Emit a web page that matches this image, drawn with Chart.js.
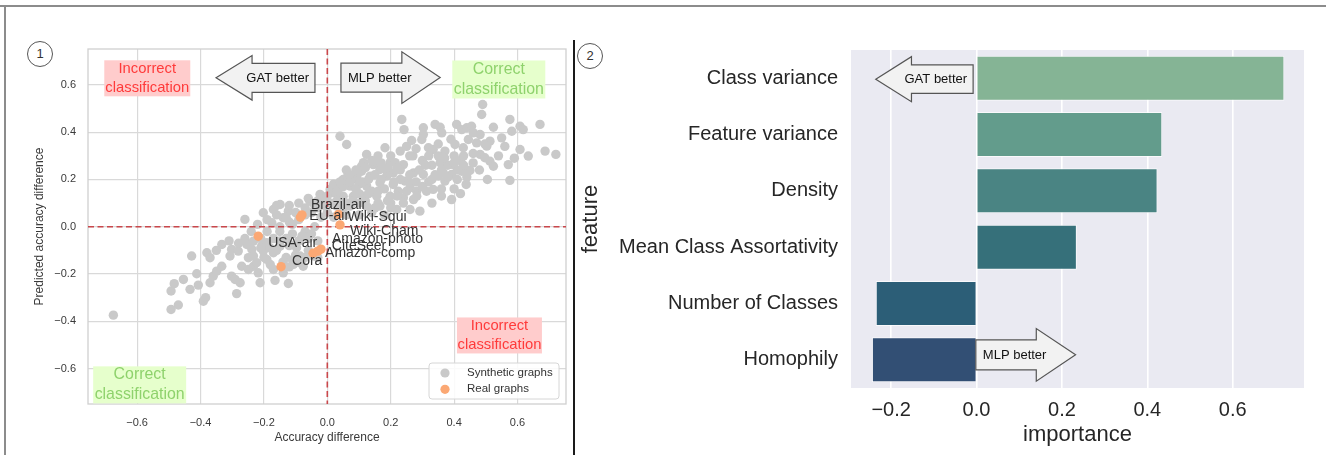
<!DOCTYPE html>
<html>
<head>
<meta charset="utf-8">
<script src="https://cdn.jsdelivr.net/npm/chart.js@4.4.1/dist/chart.umd.min.js"></script>
<style>
  html, body { margin: 0; padding: 0; background: #fff; width: 1326px; height: 455px; overflow: hidden;
    font-family: "Liberation Sans", Arial, sans-serif; }
  .abs { position: absolute; }
  #topline { left: 0; top: 5px; width: 1326px; height: 2px; background: #8c8c8c; }
  #leftline { left: 4px; top: 5px; width: 2px; height: 450px; background: #8c8c8c; }
  #divider { left: 573px; top: 40px; width: 1.5px; height: 415px; background: #1a1a1a; }
  .num { width: 24px; height: 24px; border: 1px solid #555; border-radius: 50%; text-align: center;
    line-height: 24px; font-size: 13px; color: #333; background: #fff; }
  #c1 { left: 0; top: 0; }
  #c2 { left: 574px; top: 0; }
</style>
</head>
<body>
<div id="topline" class="abs"></div>
<div id="leftline" class="abs"></div>
<div id="divider" class="abs"></div>
<canvas id="c1" class="abs" width="573" height="455"></canvas>
<canvas id="c2" class="abs" width="752" height="455"></canvas>
<div class="abs num" style="left:27px;top:41px;">1</div>
<div class="abs num" style="left:577px;top:43px;">2</div>
<script>
// ---------- Panel 1: predicted vs. actual accuracy difference ----------
const x1Ticks = [-0.6, -0.4, -0.2, 0.0, 0.2, 0.4, 0.6];
const x1TickLabels = ['\u22120.6', '\u22120.4', '\u22120.2', '0.0', '0.2', '0.4', '0.6'];
const y1Ticks = [-0.6, -0.4, -0.2, 0.0, 0.2, 0.4, 0.6];
const y1TickLabels = ['\u22120.6', '\u22120.4', '\u22120.2', '0.0', '0.2', '0.4', '0.6'];

// synthetic graphs: [accuracy difference, predicted accuracy difference]
const syntheticPoints = [
  [-0.675,-0.374],[-0.493,-0.350],[-0.470,-0.331],[-0.493,-0.272],[-0.483,-0.241],[-0.454,-0.223],
  [-0.428,-0.124],[-0.433,-0.265],[-0.412,-0.199],[-0.407,-0.247],[-0.391,-0.315],[-0.384,-0.300],
  [-0.380,-0.110],[-0.370,-0.131],[-0.370,-0.237],[-0.360,-0.209],[-0.349,-0.188],[-0.333,-0.167],
  [-0.333,-0.075],[-0.307,-0.124],[-0.302,-0.096],[-0.286,-0.283],[-0.281,-0.103],[-0.302,-0.209],
  [-0.291,-0.223],[-0.275,-0.237],[-0.270,-0.167],[-0.260,0.031],[-0.254,-0.075],[-0.249,-0.131],
  [-0.238,-0.096],[-0.233,-0.167],[-0.218,-0.195],[-0.212,-0.237],[-0.207,-0.082],
  [-0.233,-0.061],[-0.165,-0.227],[-0.123,-0.240],[-0.249,-0.181],[-0.223,-0.152],[-0.191,-0.138],
  [-0.170,-0.181],[-0.139,-0.195],[-0.107,-0.159],[-0.076,-0.167],[-0.086,-0.124],[-0.044,-0.124],
  [-0.233,-0.124],[-0.202,-0.103],[-0.170,-0.110],[-0.149,-0.082],[-0.118,-0.075],[-0.097,-0.089],
  [-0.191,-0.068],
  [-0.149,0.094],[-0.170,0.073],[-0.123,0.066],[-0.202,0.059],[-0.139,0.038],[-0.175,0.017],
  [-0.055,0.108],[-0.023,0.137],[0.009,0.158],[0.040,0.165],[0.061,0.207],
  [0.040,0.383],[0.061,0.348],[0.124,0.306],[0.182,0.334],[0.114,0.271],[0.145,0.263],
  [0.108,0.235],[0.198,0.271],[0.235,0.454],[0.242,0.411],
  [0.490,0.517],[0.487,0.475],[0.303,0.419],[0.303,0.390],[0.340,0.433],[0.356,0.421],
  [0.361,0.397],[0.408,0.433],[0.424,0.411],[0.440,0.419],[0.455,0.425],[0.461,0.397],
  [0.482,0.390],[0.524,0.421],[0.550,0.376],[0.576,0.454],[0.582,0.404],[0.608,0.425],
  [0.618,0.411],[0.671,0.433],[0.266,0.365],[0.298,0.369],[0.319,0.334],[0.334,0.327],
  [0.371,0.320],[0.403,0.348],[0.429,0.334],[0.445,0.369],[0.471,0.355],[0.497,0.350],
  [0.513,0.362],[0.503,0.341],[0.608,0.327],[0.634,0.299],[0.687,0.320],[0.721,0.306],
  [0.482,0.306],[0.497,0.292],[0.513,0.277],[0.524,0.256],[0.571,0.263],[0.576,0.196],
  [0.505,0.200],[0.438,0.179],[0.450,0.238],[0.424,0.235],[0.397,0.263],[0.392,0.221],
  [0.356,0.271],[0.366,0.228],[0.350,0.214],[0.371,0.193],[0.392,0.115],[0.334,0.158],
  [0.313,0.150],[0.303,0.221],[0.272,0.228],[0.240,0.263],[0.214,0.271],[0.208,0.228],
  [0.245,0.193],[0.261,0.165],[0.282,0.150],[0.272,0.115],[0.224,0.150],[0.208,0.179],
  [0.292,0.066],
  [0.150,0.271],[0.108,0.256],[0.166,0.242],[0.219,0.249],[0.093,0.214],[0.135,0.214],
  [0.187,0.214],[0.050,0.200],[0.072,0.172],[0.124,0.172],[0.166,0.186],[0.261,0.186],
  [0.019,0.144],[0.050,0.129],[0.082,0.129],[0.114,0.129],[0.156,0.129],[0.198,0.129],
  [0.240,0.123],[0.282,0.129],[-0.013,0.108],[0.030,0.087],[0.072,0.087],[0.124,0.087],
  [0.166,0.087],[0.219,0.073],[0.261,0.073],
  [-0.190,0.030],[-0.160,0.050],[-0.120,0.020],[-0.100,0.060],[-0.070,0.080],[-0.040,0.090],
  [-0.010,0.120],[0.010,0.100],[-0.150,-0.020],[-0.110,-0.030],[-0.070,-0.020],[-0.040,0.000],
  [-0.020,0.040],[0.000,0.060],[0.020,0.040],[0.060,0.050],[0.100,0.050],[0.140,0.060],
  [0.180,0.050],[0.200,0.100],[0.160,0.100],[0.120,0.110],[0.080,0.110],[0.040,0.120],
  [-0.130,-0.050],[-0.090,-0.060],[-0.060,-0.050],[-0.030,-0.060],[-0.160,-0.100],[-0.130,-0.130],
  [-0.100,-0.120],[-0.060,-0.100],[-0.030,-0.130],[-0.200,-0.130],[-0.180,-0.160],[-0.120,-0.170],
  [-0.090,-0.150],[-0.210,-0.050],
  [0.020,0.180],[0.060,0.240],[0.080,0.200],[0.100,0.180],[0.140,0.150],[0.180,0.160],
  [0.230,0.200],[0.260,0.220],[0.280,0.190],[0.320,0.190],[0.340,0.220],[0.300,0.280],
  [0.330,0.260],[0.270,0.300],[0.230,0.320],[0.200,0.300],[0.160,0.300],[0.250,0.340],
  [0.350,0.300],[0.400,0.300],[0.420,0.280],[0.380,0.260],[0.460,0.270],[0.480,0.240],
  [0.540,0.300],[0.560,0.340],[0.590,0.290],[0.330,0.100],[0.360,0.160],[0.410,0.200],
  [0.000,0.130],[0.030,0.150],[0.050,0.170],[0.070,0.190],[0.090,0.160],[0.110,0.190],
  [0.130,0.200],[0.150,0.220],[0.170,0.200],[0.190,0.230],[0.210,0.190],[0.230,0.240],
  [0.120,0.250],[0.140,0.280],[0.170,0.270],[0.190,0.250],[0.090,0.240],[0.070,0.220],
  [0.040,0.190],[0.100,0.100],[0.130,0.140],[0.160,0.150],[0.190,0.110],[0.220,0.130],
  [0.250,0.150],[0.060,0.100],[0.030,0.110],[0.100,0.140],[0.050,0.080],[0.200,0.080],
  [0.240,0.100],[0.150,0.080],
  [-0.190,-0.020],[-0.170,-0.050],[-0.150,0.000],[-0.130,0.040],[-0.110,0.010],[-0.090,0.030],
  [-0.070,0.050],[-0.050,0.060],[-0.030,0.080],[-0.010,0.090],[-0.080,-0.040],[-0.050,-0.030],
  [-0.120,-0.080],[-0.150,-0.060],[-0.180,-0.090],[-0.210,-0.090],[-0.140,-0.150],[-0.110,-0.140],
  [-0.070,-0.130],[-0.160,0.090],[-0.120,0.090],[-0.090,0.100],[-0.060,0.120],[-0.030,0.110],
  [-0.220,0.010],[-0.240,-0.020],[-0.260,-0.050],[-0.280,-0.070],[-0.310,-0.060],[-0.350,-0.100],
  [0.290,0.240],[0.310,0.260],[0.330,0.200],[0.360,0.240],[0.380,0.210],[0.410,0.240],
  [0.430,0.260],[0.440,0.210],[0.320,0.300],[0.370,0.290],[0.400,0.270],[0.280,0.330],
  [0.260,0.300],[0.350,0.350],[0.390,0.370],[0.430,0.300],[0.460,0.310],[0.300,0.170],
  [0.400,0.160],[0.360,0.130],[0.420,0.140]
];

// real graphs
const realNames = ['Brazil-air', 'EU-air', 'Wiki-Squi', 'Wiki-Cham', 'Amazon-photo', 'CiteSeer', 'Amazon-comp', 'USA-air', 'Cora'];
const realX = [-0.080, -0.085, 0.035, 0.040, -0.020, -0.030, -0.045, -0.218, -0.146];
const realY = [0.050, 0.040, 0.052, 0.008, -0.095, -0.103, -0.112, -0.040, -0.169];
// name placement next to each point (pixels: right, down)
const nameShift = [[9, -10], [9, -1.5], [9, 3], [10, 6], [11, -10.5], [14, -5], [12, -0.5], [10, 6.5], [11, -5.5]];

// ---------- Panel 2: feature importance ----------
const features = ['Class variance', 'Feature variance', 'Density', 'Mean Class Assortativity', 'Number of Classes', 'Homophily'];
const importance = [0.721, 0.435, 0.424, 0.235, -0.236, -0.245];
const barColors = ['#85B495', '#639C8C', '#4A8483', '#36707A', '#2C5E77', '#324F74'];
const x2Ticks = [-0.2, 0.0, 0.2, 0.4, 0.6];
const x2TickLabels = ['\u22120.2', '0.0', '0.2', '0.4', '0.6'];

Chart.defaults.font.family = '"Liberation Sans", Arial, sans-serif';

function drawArrow(ctx, tailX, tipX, yc, bodyHalf, headHalf, headLen, label) {
  const dir = Math.sign(tipX - tailX);
  const baseX = tipX - dir * headLen;
  ctx.save();
  ctx.beginPath();
  ctx.moveTo(tailX, yc - bodyHalf);
  ctx.lineTo(baseX, yc - bodyHalf);
  ctx.lineTo(baseX, yc - headHalf);
  ctx.lineTo(tipX, yc);
  ctx.lineTo(baseX, yc + headHalf);
  ctx.lineTo(baseX, yc + bodyHalf);
  ctx.lineTo(tailX, yc + bodyHalf);
  ctx.closePath();
  ctx.fillStyle = '#F2F2F2';
  ctx.fill();
  ctx.strokeStyle = '#555';
  ctx.lineWidth = 1.2;
  ctx.stroke();
  ctx.fillStyle = '#111';
  ctx.font = '13px "Liberation Sans", Arial, sans-serif';
  ctx.textBaseline = 'middle';
  if (dir < 0) { ctx.textAlign = 'right'; ctx.fillText(label, tailX - 6, yc + 0.5); }
  else { ctx.textAlign = 'left'; ctx.fillText(label, tailX + 7, yc + 0.5); }
  ctx.restore();
}

function drawNote(ctx, cx, cy, lines, fg, bg, size, lineGap, w, h) {
  ctx.save();
  ctx.fillStyle = bg;
  ctx.fillRect(cx - w / 2, cy - h / 2, w, h);
  ctx.fillStyle = fg;
  ctx.font = size + 'px "Liberation Sans", Arial, sans-serif';
  ctx.textAlign = 'center';
  ctx.textBaseline = 'middle';
  ctx.fillText(lines[0], cx, cy - lineGap / 2);
  ctx.fillText(lines[1], cx, cy + lineGap / 2);
  ctx.restore();
}

const panel1Overlay = {
  id: 'panel1Overlay',
  beforeDatasetsDraw(chart) {
    const { ctx, chartArea: a } = chart;
    ctx.save();
    ctx.strokeStyle = '#D0D0D0';
    ctx.lineWidth = 1.3;
    ctx.strokeRect(a.left, a.top, a.right - a.left, a.bottom - a.top);
    ctx.restore();
  },
  afterDatasetDraw(chart, args) {
    if (args.index !== 1) return;
    // zero reference lines, drawn over the synthetic cloud
    const { ctx, chartArea: a, scales: { x, y } } = chart;
    const x0 = x.getPixelForValue(0), y0 = y.getPixelForValue(0);
    ctx.save();
    ctx.setLineDash([6, 3.5]);
    ctx.strokeStyle = '#C9474B';
    ctx.lineWidth = 1.6;
    ctx.beginPath();
    ctx.moveTo(x0, a.top); ctx.lineTo(x0, a.bottom);
    ctx.moveTo(a.left, y0); ctx.lineTo(a.right, y0);
    ctx.stroke();
    ctx.restore();
  },
  afterDatasetsDraw(chart) {
    const { ctx, chartArea: a, scales: { x, y } } = chart;
    ctx.save();
    ctx.font = '14px "Liberation Sans", Arial, sans-serif';
    ctx.fillStyle = '#333';
    ctx.textAlign = 'left';
    ctx.textBaseline = 'middle';
    realNames.forEach((n, i) => {
      ctx.fillText(n, x.getPixelForValue(realX[i]) + nameShift[i][0], y.getPixelForValue(realY[i]) + nameShift[i][1]);
    });
    ctx.restore();

    // quadrant notes
    drawNote(ctx, x.getPixelForValue(-0.568), y.getPixelForValue(0.628), ['Incorrect', 'classification'], '#FF3A3A', '#FFCCCC', 14.8, 19, 86, 36);
    drawNote(ctx, x.getPixelForValue(0.541), y.getPixelForValue(0.623), ['Correct', 'classification'], '#8ED26C', '#E6FFCC', 15.9, 20, 93, 38);
    drawNote(ctx, x.getPixelForValue(-0.592), y.getPixelForValue(-0.669), ['Correct', 'classification'], '#8ED26C', '#E6FFCC', 15.9, 20, 93, 37);
    drawNote(ctx, x.getPixelForValue(0.543), y.getPixelForValue(-0.460), ['Incorrect', 'classification'], '#FF3A3A', '#FFCCCC', 14.8, 19, 85, 36);

    // direction arrows
    drawArrow(ctx, x.getPixelForValue(-0.039), x.getPixelForValue(-0.351), y.getPixelForValue(0.630), 14.5, 22.3, 36, 'GAT better');
    drawArrow(ctx, x.getPixelForValue(0.043), x.getPixelForValue(0.356), y.getPixelForValue(0.631), 14.5, 25.8, 38.3, 'MLP better');

    // legend
    const lw = 130, lh = 36;
    const lx = a.right - 7 - lw, ly = a.bottom - 5 - lh;
    ctx.save();
    ctx.beginPath();
    ctx.roundRect(lx, ly, lw, lh, 3);
    ctx.fillStyle = 'rgba(255,255,255,0.85)';
    ctx.fill();
    ctx.strokeStyle = '#D6D6D6';
    ctx.lineWidth = 1;
    ctx.stroke();
    const entries = [['Synthetic graphs', '#C9C9C9'], ['Real graphs', '#FBA874']];
    entries.forEach(([t, c], i) => {
      const yy = ly + 10 + i * 16.3;
      ctx.beginPath();
      ctx.arc(lx + 16, yy, 4.6, 0, Math.PI * 2);
      ctx.fillStyle = c;
      ctx.fill();
      ctx.fillStyle = '#333';
      ctx.font = '11.5px "Liberation Sans", Arial, sans-serif';
      ctx.textAlign = 'left';
      ctx.textBaseline = 'middle';
      ctx.fillText(t, lx + 38, yy);
    });
    ctx.restore();
  }
};

new Chart(document.getElementById('c1'), {
  type: 'scatter',
  data: {
    datasets: [
      { label: 'Real graphs', data: realX.map((v, i) => ({ x: v, y: realY[i] })),
        backgroundColor: '#FBA874', borderWidth: 0, pointRadius: 4.7, pointHoverRadius: 4.7, order: 0 },
      { label: 'Synthetic graphs', data: syntheticPoints.map(p => ({ x: p[0], y: p[1] })),
        backgroundColor: '#C9C9C9', borderWidth: 0, pointRadius: 4.7, pointHoverRadius: 4.7, order: 1 }
    ]
  },
  options: {
    responsive: false, animation: false, events: [],
    layout: { padding: { left: 0, top: 49, right: 7, bottom: 0 } },
    scales: {
      x: {
        type: 'linear', min: -0.755, max: 0.753,
        afterBuildTicks: s => { s.ticks = x1Ticks.map(v => ({ value: v })); },
        afterFit: s => { s.height = 51; },
        grid: { color: '#D9D9D9', lineWidth: 1.2, drawTicks: false },
        border: { display: false },
        ticks: { padding: 12, color: '#3a3a3a', font: { size: 11 }, callback: (v, i) => x1TickLabels[i] },
        title: { display: true, text: 'Accuracy difference', color: '#3a3a3a', font: { size: 12 }, padding: { top: 0, bottom: 10.5 } }
      },
      y: {
        type: 'linear', min: -0.75, max: 0.752,
        afterBuildTicks: s => { s.ticks = y1Ticks.map(v => ({ value: v })); },
        afterFit: s => { s.width = 88; },
        grid: { color: '#D9D9D9', lineWidth: 1.2, drawTicks: false },
        border: { display: false },
        ticks: { padding: 12, color: '#3a3a3a', font: { size: 11 }, callback: (v, i) => y1TickLabels[i] },
        title: { display: true, text: 'Predicted accuracy difference', color: '#3a3a3a', font: { size: 12 }, padding: { top: 32, bottom: 0 } }
      }
    },
    plugins: { legend: { display: false }, tooltip: { enabled: false } }
  },
  plugins: [panel1Overlay]
});

const panel2Overlay = {
  id: 'panel2Overlay',
  beforeDraw(chart) {
    const { ctx, chartArea: a } = chart;
    ctx.save();
    ctx.fillStyle = '#EAEAF2';
    ctx.fillRect(a.left, a.top, a.right - a.left, a.bottom - a.top);
    ctx.restore();
  },
  afterDatasetsDraw(chart) {
    const { ctx, scales: { x, y } } = chart;
    const x0 = x.getPixelForValue(0);
    drawArrow(ctx, x0 - 3.4, x.getPixelForValue(-0.236), y.getPixelForValue(0) + 1, 14.2, 22.5, 35.7, 'GAT better');
    drawArrow(ctx, x0 - 0.7, x.getPixelForValue(0.232), y.getPixelForValue(features.length - 1) - 5, 15, 26.3, 39.3, 'MLP better');
  }
};

new Chart(document.getElementById('c2'), {
  type: 'bar',
  data: {
    labels: features,
    datasets: [{ data: importance, backgroundColor: barColors, borderColor: 'rgba(255,255,255,0.7)', borderWidth: 1,
      barPercentage: 0.8, categoryPercentage: 1.0 }]
  },
  options: {
    indexAxis: 'y', responsive: false, animation: false, events: [],
    layout: { padding: { left: 0, top: 50, right: 22, bottom: 0 } },
    scales: {
      x: {
        type: 'linear', min: -0.294, max: 0.767,
        afterBuildTicks: s => { s.ticks = x2Ticks.map(v => ({ value: v })); },
        afterFit: s => { s.height = 67; },
        grid: { color: '#FFFFFF', lineWidth: 1.6, drawTicks: false },
        border: { display: false },
        ticks: { padding: 10.5, color: '#262626', font: { size: 20 }, callback: (v, i) => x2TickLabels[i] },
        title: { display: true, text: 'importance', color: '#262626', font: { size: 22 }, padding: { top: 0, bottom: 6.5 } }
      },
      y: {
        afterFit: s => { s.width = 277; },
        grid: { display: false, drawTicks: false },
        border: { display: false },
        ticks: { padding: 13, color: '#262626', font: { size: 20 } },
        title: { display: true, text: 'feature', color: '#262626', font: { size: 22 }, padding: { top: 4, bottom: 0 } }
      }
    },
    plugins: { legend: { display: false }, tooltip: { enabled: false } }
  },
  plugins: [panel2Overlay]
});
</script>
</body>
</html>
